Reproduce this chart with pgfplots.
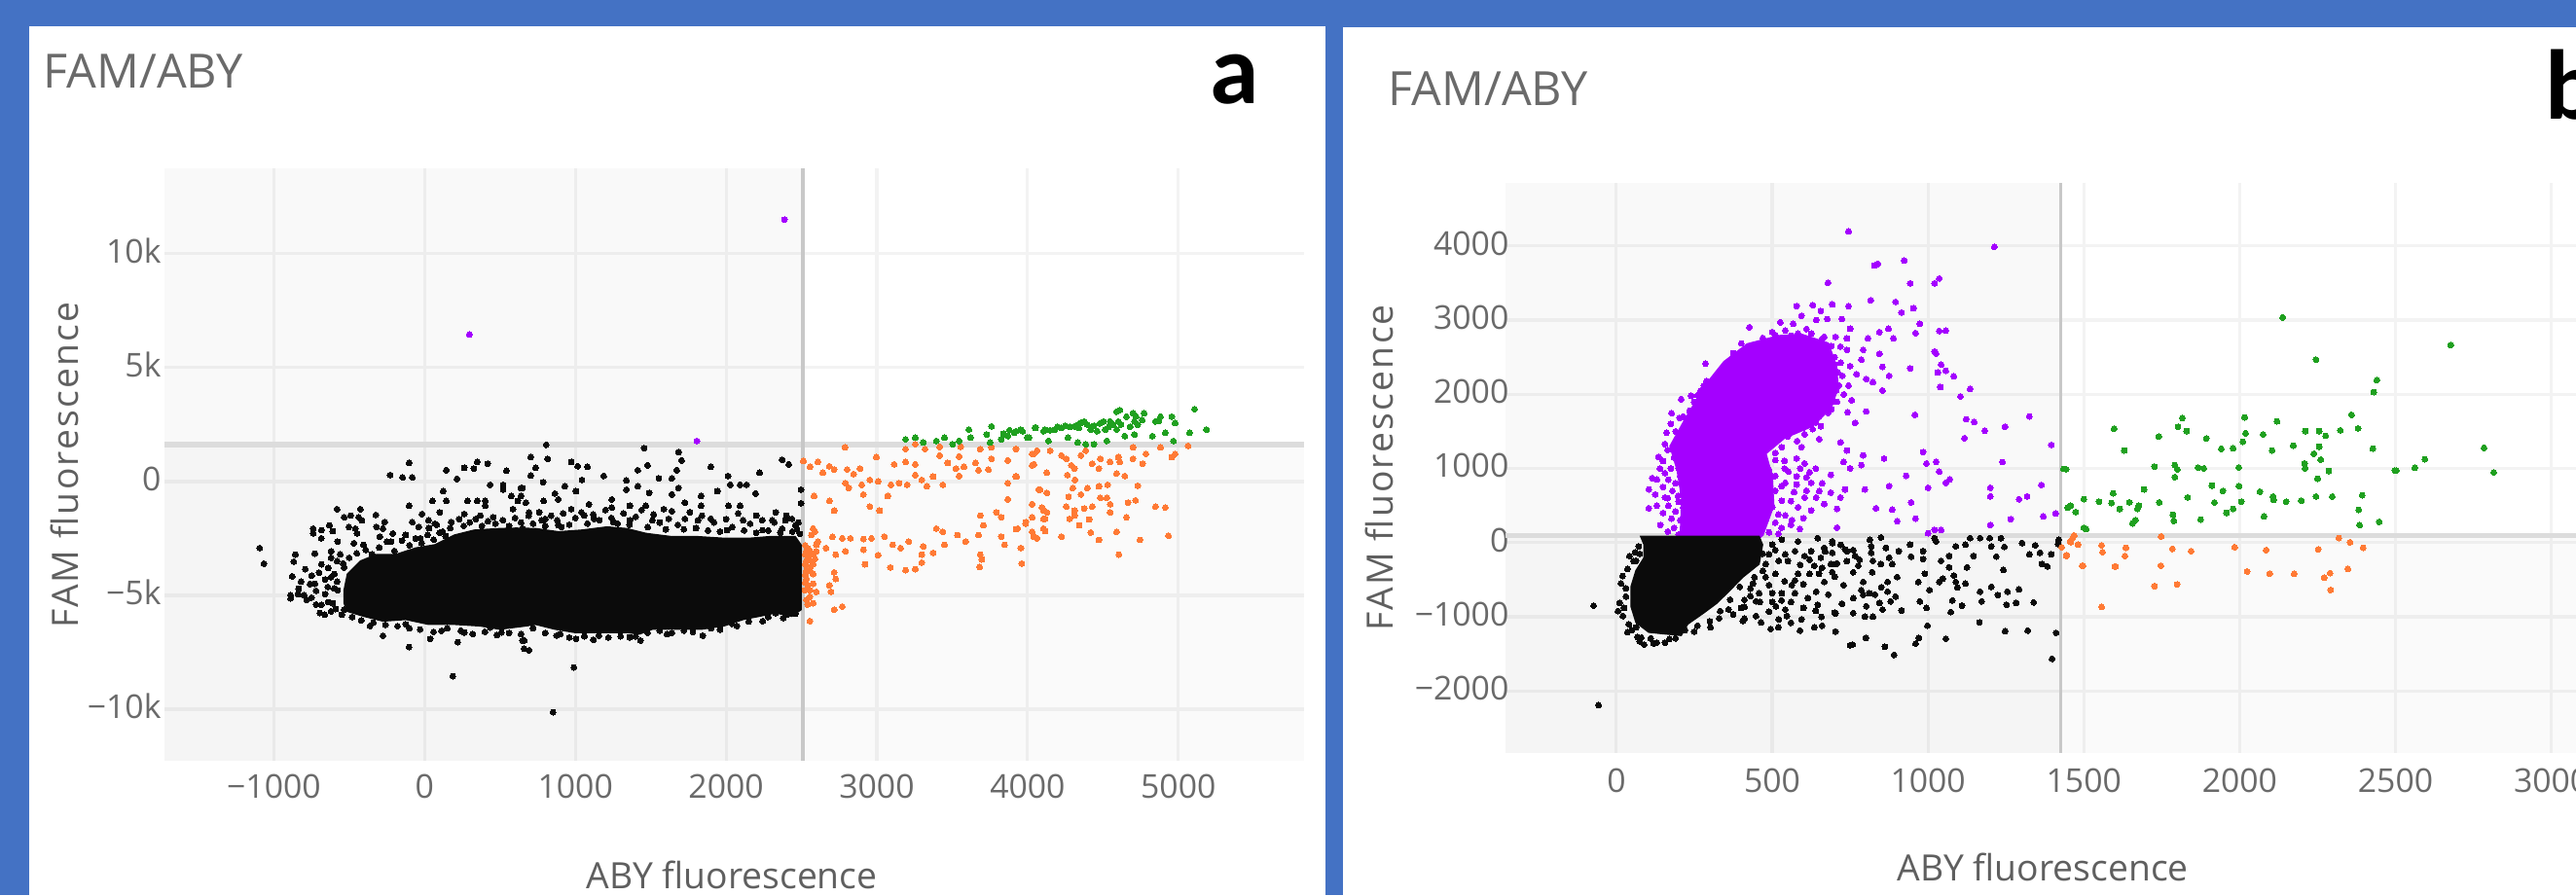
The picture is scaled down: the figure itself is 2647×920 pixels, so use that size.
\documentclass[border=0pt]{standalone}
\usepackage{pgfplots}
\pgfplotsset{compat=1.18}
\usepackage{fontspec}
\setmainfont{Open Sans}
\newfontfamily\lblfont{Carlito}
\definecolor{frameblue}{HTML}{4472C4}
\definecolor{blk}{HTML}{0B0B0B}
\definecolor{org}{HTML}{FF7A35}
\definecolor{grn}{HTML}{1FA01F}
\definecolor{pur}{HTML}{A400FF}
\definecolor{txt}{HTML}{6A6A6A}
\definecolor{gridc}{HTML}{F3F3F3}
\definecolor{thr}{HTML}{DCDCDC}
\definecolor{thrv}{HTML}{C8C8C8}
\pgfplotsset{
  panel/.style={
    scale only axis, axis line style={draw=none}, tick style={draw=none},
    scaled x ticks=false, scaled y ticks=false,
    grid=major, grid style={gridc,line width=0.9pt},
    tick label style={font=\fontsize{9.6}{12}\selectfont,text=txt},
    label style={font=\fontsize{10.6}{12}\selectfont,text=txt!90!black},
    yticklabel style={xshift=2.5pt,yshift=0.8pt},
  },
  quad/.style={fill=black,fill opacity=#1,draw=none,forget plot},
  dots/.style={only marks,color=#1,mark=*,mark size=0.85pt,mark options={solid,draw=#1,fill=#1,line width=0pt},forget plot},
}
\begin{document}
\begin{tikzpicture}[x=0.01cm,y=0.01cm]
\path[use as bounding box,clip] (0,0) rectangle (2647,920);
\fill[frameblue] (0,0) rectangle (2647,920);
\fill[white] (30,0) rectangle (1362,893);
\fill[white] (1380,0) rectangle (2647,892);
% ---------- panel a
\begin{axis}[panel, at={(1.69cm,1.38cm)}, anchor=south west, width=11.7cm, height=6.09cm,
  xmin=-1725, xmax=5833, ymin=-12260, ymax=13770,
  xticklabel style={yshift=-0.4pt},
  xtick={-1000,0,1000,2000,3000,4000,5000},
  xticklabels={−1000,0,1000,2000,3000,4000,5000},
  ytick={-10000,-5000,0,5000,10000},
  yticklabels={−10k,−5k,0,5k,10k},
  xlabel={ABY fluorescence},
  ylabel={\addfontfeatures{LetterSpace=6}FAM fluorescence},
  xlabel style={at={(axis description cs:0.498,-0.192)},anchor=center},
  ylabel style={at={(axis description cs:-0.088,0.499)},anchor=center},
]
\addplot[quad=0.025] coordinates {(-1725,1609)(2512,1609)(2512,13770)(-1725,13770)} -- cycle;
\addplot[quad=0.04] coordinates {(-1725,-12260)(2512,-12260)(2512,1609)(-1725,1609)} -- cycle;
\addplot[quad=0.02] coordinates {(2512,-12260)(5833,-12260)(5833,1609)(2512,1609)} -- cycle;
\addplot[thr,line width=1.6pt,forget plot] coordinates {(-1725,1609)(5833,1609)};
\addplot[thrv,line width=1.1pt,forget plot] coordinates {(2512,-12260)(2512,13770)};
% dense body, black
\addplot[fill=blk,draw=blk,forget plot] coordinates {
(-534,-4775)(-512,-4063)(-426,-3493)(-319,-3208)(-190,-3208)(-60,-2922)(69,-2780)(198,-2352)(327,-2139)(499,-2068)(607,-2050)(736,-2068)(887,-2210)(1038,-2139)(1210,-1996)(1339,-2068)(1468,-2281)(1640,-2424)(1813,-2424)(1985,-2495)(2157,-2495)(2286,-2424)(2459,-2424)(2497,-2780)(2497,-5630)(2437,-5920)(2329,-5773)(2222,-5915)(2114,-6057)(1985,-6342)(1834,-6485)(1684,-6485)(1511,-6485)(1425,-6699)(1339,-6628)(1167,-6628)(995,-6628)(865,-6485)(736,-6272)(672,-6342)(499,-6485)(370,-6342)(198,-6271)(26,-6271)(-125,-6058)(-276,-6129)(-405,-5915)(-512,-5701)(-534,-5345)
} -- cycle;
\addplot[dots=blk] coordinates {
(-103,811)(-228,284)(-146,184)(-82,184)(144,497)(263,597)(327,569)(349,854)(418,782)(215,113)(543,469)(435,-144)(521,-144)(521,-358)(575,-642)(639,-286)(123,-429)(52,-856)(144,-856)(284,-856)(349,-856)(403,-856)(403,-1070)(-103,-1070)(-581,-1213)(-426,-1213)(-491,-1498)(-323,-1469)(-534,-1569)(-437,-1569)(-416,-1711)(-631,-1925)(-739,-2068)(-685,-2139)(-739,-2281)(-609,-2182)(-502,-1996)(-459,-2068)(-448,-2281)(-685,-2495)(-265,-1783)(-319,-1996)(-276,-2068)(-211,-2281)(-577,-2638)(-469,-2709)(-405,-2780)(-297,-2424)(-222,-2638)(-17,-1426)(101,-1355)(26,-1711)(-82,-1783)(69,-1854)(-39,-1996)(-125,-2352)(-28,-2495)(263,-1426)(370,-1498)(456,-1569)(586,-1213)(672,-928)(177,-1783)(-857,-3208)(-728,-3165)(-620,-3065)(-868,-3521)(-792,-3849)(-749,-4134)(-685,-3635)(-620,-3350)(-534,-3778)(-599,-4063)(-878,-4162)(-728,-4490)(-642,-4632)(-835,-4704)(-889,-4989)(-889,-5131)(-782,-5203)(-685,-5416)(-695,-5773)(-663,-5844)(-609,-5345)(-534,-5630)(-577,-4775)(-362,-6343)(-276,-6770)(-103,-7269)(37,-6912)(220,-7055)(112,-6556)(-125,-6271)(263,-6628)(435,-6414)(510,-6628)(650,-6984)(661,-7340)(187,-8551)(-1094,-2923)(-1066,-3607)
(807,1609)(704,1067)(816,996)(736,597)(704,255)(786,-30)(650,-286)(639,-642)(618,-856)(865,-529)(887,-785)(930,-215)(973,854)(1016,669)(1081,640)(1044,70)(1005,-429)(790,-856)(1188,241)(1457,1466)(1479,711)(1414,497)(1339,42)(1339,-358)(1414,-215)(1490,-500)(1242,-785)(1242,-1141)(1091,-999)(973,-1213)(1361,-1070)(1554,141)(1684,1281)(1705,925)(1673,497)(1640,141)(1684,-286)(1640,-571)(1727,-928)(1834,-642)(1834,-1070)(1899,640)(2013,241)(2028,-144)(2093,-144)(2136,-144)(2222,384)(2196,-529)(1942,-429)(2017,-1070)(2093,-1070)(2372,954)(2416,754)(2497,-358)(2497,-956)(1587,-1213)(1468,-1070)(2200,-1498)(2329,-1355)(2437,-1640)(2308,-1711)(1813,-1711)(2006,-2139)(693,-1355)(801,-1640)(887,-1925)(1059,-1498)
(661,-6984)(693,-7411)(990,-8167)(876,-6770)(1005,-6912)(1156,-6770)(1361,-6841)(1432,-6984)(1608,-6699)(1845,-6770)(2243,-6129)(2071,-6343)(2329,-5773)(852,-10128)
(650,-2068)(779,-1711)(908,-1996)(1124,-1640)(1253,-1783)(1361,-1711)(1511,-1711)(1619,-1640)(1727,-1640)(1899,-1640)(2114,-1711)(2243,-2139)(2372,-2068)(2459,-1925)(2394,-1711)
(30,-2050)(80,-1900)(120,-2200)(170,-2050)(230,-1650)(260,-1950)(300,-1800)(340,-1650)(380,-1950)(420,-1750)(470,-1850)(520,-1700)(560,-1950)(600,-1600)(640,-1800)(690,-1500)(720,-1850)(760,-1350)(800,-1950)(840,-1500)(880,-1700)(920,-1400)(960,-1900)(1000,-1600)(1040,-1350)(1080,-1850)(1120,-1450)(1160,-1700)(1200,-1250)(1240,-1600)(1280,-1850)(1320,-1400)(1360,-1900)(1400,-1550)(1440,-1250)(1480,-2000)(1520,-1450)(1560,-1800)(1600,-2100)(1640,-1300)(1680,-1900)(1720,-2100)(1760,-1350)(1800,-2050)(1840,-1500)(1880,-2150)(1920,-1800)(1960,-2200)(2000,-1650)(2040,-2000)(2080,-1400)(2120,-2150)(2160,-1850)(2200,-2250)(2240,-1700)(2280,-2150)(2320,-1800)(2360,-2250)(2400,-1500)(2440,-2200)(2480,-1800)(2490,-2300)(2470,-2100)
(-300,-2900)(-250,-2650)(-200,-3050)(-150,-2600)(-100,-2800)(-60,-2500)(-20,-2700)(20,-2350)(60,-2550)(100,-2250)(140,-2400)(-350,-3200)(-390,-3000)(-450,-3150)(-500,-3350)(-560,-3200)(-540,-3600)(-580,-3500)(-640,-3800)(-660,-4300)(-700,-4000)(-620,-4200)(-580,-4400)(-600,-4700)(-660,-4950)(-720,-4800)(-760,-4500)(-820,-4400)(-840,-4950)(-800,-5000)(-750,-5100)(-720,-5400)(-640,-5300)(-590,-5600)(-550,-5850)(-620,-5700)(-480,-5950)(-420,-6100)(-340,-6200)(-260,-6300)(-180,-6350)(-100,-6450)(-30,-6500)(60,-6600)(150,-6450)(240,-6550)(320,-6700)(400,-6600)(480,-6750)(560,-6650)(640,-6700)(720,-6450)(800,-6650)(900,-6700)(960,-6850)(1060,-6800)(1120,-6950)(1220,-6850)(1300,-6800)(1400,-6800)(1480,-6650)(1560,-6550)(1640,-6650)(1720,-6550)(1780,-6600)(1900,-6450)(1960,-6500)(2040,-6250)(2150,-6150)(2280,-5950)(2380,-6000)(2460,-5800)(2400,-5850)
};
\addplot[dots=org] coordinates {
(2788,1495)(2997,1068)(3191,1424)(3255,1637)(3320,1424)(3417,1524)(3557,1524)(3686,1424)(3761,1495)(3923,1424)(4041,1210)(2513,896)(2556,640)(2609,854)(2642,384)(2685,669)(2717,526)(2803,526)(2846,327)(2889,569)(3115,754)(3191,854)(3255,754)(3417,1139)(3471,811)(3546,1096)(3525,569)(3578,640)(3546,241)(3654,811)(3675,498)(3740,526)(3761,996)(3869,925)(4030,711)(2792,-72)(2814,-286)(2900,-144)(2911,-571)(2954,70)(3008,-1)(3094,-144)(3148,-72)(3202,-144)(3255,284)(3298,70)(3331,-215)(3374,213)(3438,-144)(3072,-642)(3869,-72)(3923,213)(2584,-642)(2685,-856)(2717,-1284)(2954,-1099)(3019,-1284)(3869,-785)(4084,-358)(4030,-999)(4106,-1284)(3686,-1498)(3794,-1355)(3826,-1569)(3395,-2068)(3438,-2210)(3707,-1925)(3675,-2353)(3535,-2353)(3589,-2638)(3449,-2780)(3826,-2424)(3847,-2780)(3934,-2068)(3987,-1854)(4030,-1569)(4041,-2424)(4106,-1640)(4106,-2068)(2577,-2068)(2566,-2353)(2706,-2424)(2771,-2495)(2825,-2495)(2911,-2524)(2965,-2495)(3051,-2424)(3105,-2780)(3158,-2923)(3212,-2638)(3309,-2851)(2911,-2994)(3008,-3236)(2728,-3208)(2663,-2923)(2792,-3065)(2599,-2780)(2556,-3065)(2545,-3350)(2577,-3635)(2922,-3635)(3090,-3778)(3191,-3892)(3255,-3849)(3298,-3564)(3298,-3208)(3374,-3136)(3686,-3208)(3697,-3421)(3682,-3749)(3955,-2923)(3962,-3607)(2717,-3991)(2728,-4276)(2685,-4561)(2696,-4846)(2577,-4490)(2599,-4846)(2556,-5060)(2577,-5345)(2717,-5630)(2771,-5488)(2556,-6129)(2534,-4276)(2577,-4063)
(2534,-3065)(2534,-3493)(2534,-3920)(2577,-3208)(2566,-3493)(2556,-3920)(2599,-3065)(2523,-4775)(2556,-4775)(2534,-5203)(2609,-2638)(2588,-2210)
(2525,-2800)(2525,-3200)(2525,-3650)(2525,-4100)(2525,-4450)(2545,-2950)(2545,-4550)(2560,-3750)(2590,-3400)(2540,-5400)
(3924,1424)(4031,1210)(4063,1353)(4150,1353)(4225,1139)(4257,996)(4354,1139)(4386,1353)(4290,711)(4311,569)(4042,754)(3928,213)(4128,384)(4264,284)(4315,70)(4429,783)(4473,569)(4483,996)(4548,854)(4602,1068)(4612,854)(4591,355)(4645,241)(4699,1495)(4699,996)(4785,1210)(4763,783)(4882,1495)(4957,1068)(4979,1210)(4731,-187)(4473,-215)(4531,-144)(4397,-286)(4300,-286)(4354,-571)(4272,-671)(4074,-358)(4128,-500)(4483,-714)(4526,-714)(4548,-999)(4666,-928)(4716,-828)(4849,-1099)(4914,-1141)(4257,-1099)(4311,-1284)(4376,-1184)(4429,-1099)(4548,-1355)(4656,-1569)(4279,-1640)(4311,-1498)(4343,-1925)(4408,-1669)(4031,-999)(4096,-1141)(4128,-1355)(4117,-1640)(4031,-1569)(3988,-1783)(3924,-2096)(4031,-2210)(4063,-2495)(4117,-2182)(4225,-2424)(4419,-2239)(4473,-2566)(4591,-2210)(4746,-2566)(4935,-2381)(3956,-2923)(3962,-3607)(4606,-3208)(5065,1566)
};
\addplot[dots=grn] coordinates {
(3191,1851)(3255,1923)(3309,1709)(3395,1780)(3449,1923)(3503,1637)(3546,1780)(3611,2279)(3621,1923)(3761,2421)(3729,2065)(3751,1709)(3826,1851)(3869,1994)(3912,2136)(3955,2279)(3998,1923)(4052,2350)(4106,2208)
(3924,2208)(3967,2208)(4010,1923)(4053,2379)(4117,2279)(4139,1780)(4182,2279)(4225,2350)(4268,1923)(4311,2421)(4354,2564)(4397,2493)(4419,2279)(4333,1709)(4386,1637)(4440,1637)(4462,2208)(4505,2635)(4516,2279)(4526,1780)(4569,2493)(4591,3063)(4612,3134)(4591,2279)(4645,1994)(4699,2991)(4709,2635)(4731,2493)(4709,2065)(4774,2991)(4828,1994)(4849,2635)(4882,2849)(4914,2136)(4957,2849)(4979,2564)(4968,1780)(5075,2136)(5108,3177)(5187,2279)
(4333,2493)(4376,2635)(4548,2635)(4602,2635)(4656,2849)(4720,2849)
(4250,2450)(4280,2400)(4340,2350)(4440,2450)(4480,2550)(4540,2400)(4620,2500)(4680,2400)(4760,2700)(4870,2650)(4150,2250)(4200,2400)(3880,2250)(3840,2100)
};
\addplot[dots=pur] coordinates {(297,6453)(2387,11496)(1806,1780)};
\end{axis}
% ---------- panel b
\begin{axis}[panel, at={(15.46cm,1.46cm)}, anchor=south west, width=11.01cm, height=5.86cm,
  xmin=-356, xmax=3084, ymin=-2835, ymax=4856,
  xticklabel style={yshift=-1pt},
  xtick={0,500,1000,1500,2000,2500,3000},
  xticklabels={0,500,1000,1500,2000,2500,3000},
  ytick={-2000,-1000,0,1000,2000,3000,4000},
  yticklabels={−2000,−1000,0,1000,2000,3000,4000},
  xlabel={ABY fluorescence},
  ylabel={\addfontfeatures{LetterSpace=6}FAM fluorescence},
  xlabel style={at={(axis description cs:0.5014,-0.1997)},anchor=center},
  ylabel style={at={(axis description cs:-0.1172,0.5)},anchor=center},
  yticklabel style={xshift=2pt},
  clip mode=individual,
]
\addplot[quad=0.025] coordinates {(-356,96)(1425,96)(1425,4856)(-356,4856)} -- cycle;
\addplot[quad=0.04] coordinates {(-356,-2835)(1425,-2835)(1425,96)(-356,96)} -- cycle;
\addplot[quad=0.02] coordinates {(1425,-2835)(3084,-2835)(3084,96)(1425,96)} -- cycle;
\addplot[thr,line width=1.6pt,forget plot] coordinates {(-356,96)(3084,96)};
\addplot[thrv,line width=1pt,forget plot] coordinates {(1425,-2835)(1425,4856)};
% dense body, purple
\addplot[fill=pur,draw=pur,forget plot] coordinates {
(205,96)(210,587)(195,980)(172,1300)(224,1693)(290,2150)(345,2440)(420,2680)(521,2790)(594,2810)(680,2690)(705,2400)(712,2100)(690,1820)(630,1570)(540,1410)(480,1200)(500,900)(505,500)(470,96)
} -- cycle;
\addplot[dots=pur] coordinates {
(745,4195)(828,3736)(839,3758)(924,3802)(679,3504)(943,3496)(1021,3496)(1036,3561)(816,3268)(896,3246)(578,3189)(630,3203)(693,3211)(745,3189)(953,3159)(915,3102)(594,3058)(656,3124)(641,3001)(677,3014)(724,3014)(427,2905)(974,2949)(526,2971)(568,2949)(500,2839)(542,2861)(583,2818)(625,2818)(667,2774)(703,2774)(750,2883)(740,2752)(807,2752)(844,2839)(873,2883)(889,2752)(960,2826)(1036,2853)(401,2686)(448,2577)(375,2555)(286,2415)(359,2424)(396,2490)(354,2336)(417,2336)(313,2205)(333,2074)(281,2118)(260,1987)(250,1899)(208,1934)(177,1746)(203,1680)(161,1484)(156,1330)(135,1155)(208,1396)(276,1221)(156,937)(115,871)(104,718)(167,849)(156,609)(198,631)(104,464)(167,499)(177,324)(141,237)(229,368)(219,806)(234,1068)
(719,2643)(740,2599)(792,2599)(786,2468)(719,2424)(750,2380)(844,2546)(854,2371)(875,2249)(771,2271)(802,2205)(823,2162)(714,2118)(745,2118)(854,2052)(943,2350)(1021,2577)(1042,2402)(1031,2293)(1040,2096)(755,1921)(708,1899)(802,1768)(742,1759)(766,1615)(958,1724)(651,1396)(719,1352)(740,1243)(792,1177)(786,1046)(729,1090)(750,1002)(859,1134)(984,1221)(995,1068)(1026,1090)(1036,959)(1057,806)(930,902)(688,915)(604,1068)(578,1134)(563,1527)(604,1462)(656,1571)(521,1462)(594,1287)
(500,893)(552,959)(578,893)(542,806)(578,784)(625,806)(651,696)(688,674)(719,609)(734,718)(797,718)(875,762)(1000,740)(604,609)(641,609)(667,521)(708,456)(625,434)(583,478)(531,565)(542,368)(563,303)(479,303)(833,464)(885,447)(901,290)(946,543)(960,324)(708,202)(589,185)(458,499)(490,674)(458,806)(490,980)(510,1112)(469,1112)(531,1287)(469,718)(1021,171)(1042,171)(1000,128)
(1213,3989)(1325,1702)(1247,1563)(1182,1510)(1122,1663)(1148,1625)(1117,1409)(1135,2071)(1104,1972)(1396,1317)(1239,1086)(1200,740)(1200,624)(1292,585)(1318,624)(1364,778)(1370,354)(1409,393)(1265,316)(1200,239)(1070,855)(1057,2857)(1026,2549)(1057,2318)(1083,2241)
(150,1100)(165,1250)(185,1150)(200,1000)(215,1200)(225,1320)(175,1000)(140,1000)(130,850)(190,800)(205,900)(150,750)(180,700)(125,650)(200,550)(215,680)(235,750)(165,600)(130,500)(190,420)(215,470)(240,540)(150,400)(205,300)(235,250)(185,200)(165,150)(215,160)(245,300)(240,130)(200,110)(250,420)
(190,1500)(215,1700)(235,1780)(175,1600)(240,1980)(270,2050)(295,1950)(290,2180)(320,2250)(340,2180)(370,2460)(390,2400)(420,2480)(445,2650)(470,2620)(470,2760)(500,2720)(510,2800)(540,2750)(560,2790)(590,2760)(610,2880)(640,2700)(660,2750)(690,2650)(700,2500)(710,2300)(705,2050)(700,2400)(725,2250)(730,2000)(700,1900)(680,1750)(650,1700)(690,1800)(640,1620)(600,1550)(630,1530)(550,1430)(580,1370)
(420,1300)(450,1280)(470,1200)(430,1130)(400,1060)(440,1010)(480,1050)(510,1210)(540,1100)(420,850)(450,920)(480,830)(510,900)(530,760)(450,640)(480,600)(510,700)(430,560)(460,430)(500,480)(520,380)(440,330)(470,220)(510,270)(440,160)(490,140)(530,200)(560,240)(460,110)(520,120)(600,330)(560,560)(610,700)(570,680)(590,1000)(620,950)(540,1000)(640,1000)(660,800)(610,880)
};
% dense body, black
\addplot[fill=blk,draw=blk,forget plot] coordinates {
(78,85)(458,85)(469,-27)(458,-289)(406,-464)(365,-639)(323,-814)(281,-945)(229,-1098)(208,-1251)(156,-1230)(104,-1208)(63,-1076)(47,-858)(47,-595)(63,-377)(89,-202)(89,-27)
} -- cycle;
\addplot[dots=blk] coordinates {
(-73,-849)(-57,-2192)(42,-180)(36,-355)(63,-245)(31,-617)(31,-727)(10,-814)(5,-923)(21,-989)(36,-1208)(63,-1142)(68,-1273)(89,-1374)(130,-1348)(156,-1348)(260,-1120)(302,-1142)(333,-923)(375,-967)(411,-770)(411,-866)(448,-792)(411,-1024)(406,-1055)(448,-989)(464,-1076)(495,-1164)(521,-1033)(542,-901)(547,-989)(512,-858)(594,-1033)(589,-1186)(635,-1142)(658,-1000)(703,-1199)(700,-945)(646,-836)(615,-748)(641,-661)(667,-530)(724,-823)(729,-573)(573,-683)(563,-573)(490,-573)(531,-683)(443,-464)(479,-464)(479,-289)(521,-245)(542,-158)(604,-180)(635,-311)(656,-202)(688,-289)(708,-280)(625,-114)(667,-70)(693,17)(646,61)(573,-114)(531,39)(500,-27)(490,-158)(583,17)(583,-420)(573,-508)(438,-552)(458,-683)(396,-595)(365,-770)(750,-1383)(740,-114)
(470,-150)(510,-100)(550,-250)(590,-300)(620,-420)(470,-380)(510,-420)(540,-520)(500,-680)(460,-800)(430,-720)(400,-880)(360,-900)(330,-1020)(500,-800)(530,-780)(560,-800)(600,-560)(650,-420)(600,-880)(430,-620)(490,-930)(300,-1060)(250,-1200)(20,-450)(15,-550)(25,-880)(40,-1100)(50,-1180)(80,-1280)(110,-1290)(75,-1330)(120,-1360)(55,-250)(75,-150)(60,-130)(72,-50)(170,-1300)(190,-1290)(220,-1180)(670,-120)(720,-30)(760,-100)(780,-230)(740,-250)(660,-340)(620,-230)(700,-460)(760,-400)(680,-700)(640,-920)(560,-1080)(520,-1140)(660,-1120)(760,-950)(830,-700)(850,-600)
(693,-5)(693,-136)(734,-92)(766,-180)(703,-289)(693,-398)(776,-311)(818,-49)(813,39)(818,-136)(865,-70)(823,-245)(849,-289)(885,-289)(906,-114)(875,-202)(821,-398)(729,-573)(792,-530)(786,-639)(760,-748)(724,-823)(802,-858)(792,-705)(812,-683)(703,-954)(797,-998)(823,-998)(844,-814)(854,-901)(880,-792)(870,-661)(870,-530)(901,-464)(896,-727)(915,-914)(703,-1199)(758,-1374)(800,-1286)(862,-1404)(891,-1514)(960,-1361)(971,-1286)(998,-1120)(1057,-1295)(1073,-936)(1109,-849)(995,-880)(974,-792)(1005,-639)(969,-530)(990,-420)(1036,-530)(1047,-486)(849,70)(943,-27)(946,-188)(984,-114)(984,-223)(1026,17)(1021,61)(1042,-245)(1068,-180)(1068,-333)(1083,-442)(1089,-530)(1094,-604)(1120,-552)(1125,-333)(1089,-49)(1120,-27)(1146,-180)(1135,61)(1167,61)(1198,61)(1203,-49)(1234,61)(1245,-57)(1219,-188)(1302,-5)(1344,-35)(1325,-158)(1359,-136)(1396,-158)(1365,-289)(1383,-320)(1419,39)(1417,-18)(1242,-368)(1167,-661)(1172,-792)(1203,-595)(1224,-705)(1255,-661)(1292,-630)(1252,-836)(1283,-814)(1339,-805)(1165,-1076)(1247,-1194)(1320,-1186)(1411,-1216)(1398,-1566)(1078,-779)
};
\addplot[dots=org] coordinates {
(1464,61)(1458,8)(1481,-27)(1429,-62)(1445,-167)(1557,-35)(1560,-127)(1495,-311)(1602,-320)(1557,-866)
(1469,97)(1456,18)(1443,-179)(1497,-310)(1635,-69)(1632,-179)(1599,-323)(1748,84)(1784,-83)(1844,-113)(1747,-310)(1727,-586)(1799,-564)(1984,-61)(2085,-100)(2024,-389)(2096,-419)(2175,-419)(2252,-91)(2318,62)(2354,5)(2396,-69)(2347,-354)(2290,-411)(2271,-472)(2292,-638)
};
\addplot[dots=grn] coordinates {
(2138,3036)(2245,2467)(2440,2192)(2430,2030)(2359,1724)(1816,1680)(2016,1689)(2120,1636)(1597,1536)(1802,1562)(1830,1505)(2380,1540)(1740,1431)(2019,1475)(2075,1461)(2211,1505)(2255,1505)(2276,1440)(2323,1514)(1893,1405)(2010,1361)(1630,1243)(1941,1265)(1979,1273)(2104,1243)(2172,1308)(2255,1295)(2238,1199)(2427,1269)(2260,1120)(2208,1068)(2210,1002)(1727,1024)(1792,1046)(1800,989)(1867,1011)(1885,1002)(1997,1015)(1443,989)(2498,972)(2286,967)(1792,884)(2250,862)(1911,770)(1998,762)(1693,718)(1946,696)(2065,687)(1594,665)(1500,587)(1833,609)(2107,622)(2109,578)(2245,622)(2297,622)(2393,639)(1549,552)(1589,534)(1646,543)(1742,543)(1919,543)(2005,552)(2149,552)(2198,565)(1458,499)(1474,412)(1615,455)(1677,499)(1672,455)(1979,455)(1958,403)(2078,355)(2382,442)(1786,377)(1789,294)(1875,311)(1665,302)(1656,259)(1507,184)(2385,237)(2448,280)
(2677,2664)(2784,1279)(2815,947)(2502,971)(2562,1009)(2594,1125)(1435,994)(1448,470)(1500,200)
};
\end{axis}
% ---------- titles and panel letters
\node[anchor=west,text=txt,font=\fontsize{13.8}{16}\selectfont,inner sep=0pt] at (44,847) {FAM/ABY};
\node[anchor=west,text=txt,font=\fontsize{13.8}{16}\selectfont,inner sep=0pt] at (1426,829) {FAM/ABY};
\node[anchor=base west,font=\lblfont\bfseries\fontsize{29}{32}\selectfont,inner sep=0pt] at (1243,814) {a};
\node[anchor=base west,font=\lblfont\bfseries\fontsize{29}{32}\selectfont,inner sep=0pt] at (2615,798) {b};
\end{tikzpicture}
\end{document}
